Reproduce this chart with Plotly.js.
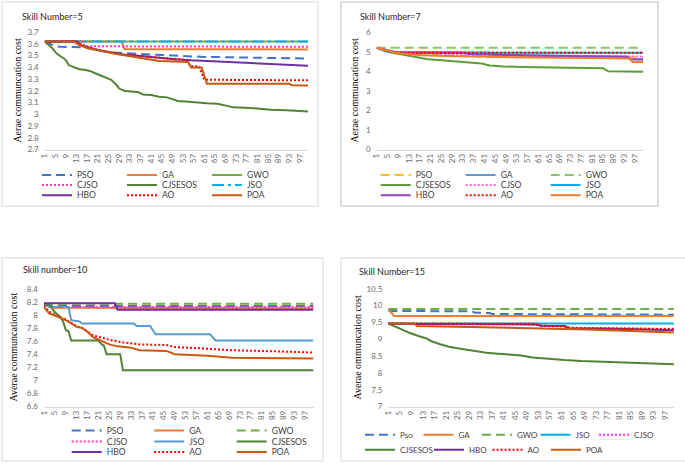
<!DOCTYPE html>
<html>
<head>
<meta charset="utf-8">
<script src="https://cdn.plot.ly/plotly-3.0.1.min.js"></script>
<style>
html,body{margin:0;padding:0;background:#fff;}
#chart{width:685px;height:467px;}
</style>
</head>
<body>
<div id="chart"></div>
<script>
// ---------- DATA (iteration, average communication cost) ----------
const iterTicks = [1,5,9,13,17,21,25,29,33,37,41,45,49,53,57,61,65,69,73,77,81,85,89,93,97];

// Skill Number = 5
const K5_PSO = [[1,3.62],[3,3.6],[5,3.58],[7,3.575],[16,3.57],[20,3.55],[25,3.53],[32,3.52],[40,3.51],[50,3.5],[60,3.49],[75,3.485],[90,3.48],[100,3.475]];
const K5_GA = [[1,3.62],[30,3.62],[31,3.555],[100,3.553]];
const K5_GWO = [[1,3.62],[100,3.62]];
const K5_CJSO = [[1,3.62],[15,3.62],[16,3.58],[100,3.575]];
const K5_CJSESOS = [[1,3.62],[2,3.6],[4,3.56],[5,3.53],[6,3.51],[8,3.48],[9,3.46],[10,3.42],[12,3.4],[14,3.385],[16,3.38],[18,3.37],[20,3.35],[22,3.33],[24,3.31],[26,3.295],[28,3.25],[29,3.22],[31,3.2],[36,3.19],[38,3.17],[41,3.165],[44,3.15],[47,3.145],[49,3.13],[51,3.115],[54,3.11],[58,3.1],[62,3.095],[66,3.09],[69,3.075],[72,3.06],[78,3.055],[82,3.045],[86,3.04],[92,3.035],[97,3.03],[100,3.025]];
const K5_JSO = [[1,3.62],[100,3.62]];
const K5_HBO = [[1,3.62],[13,3.62],[15,3.585],[18,3.565],[22,3.545],[26,3.525],[30,3.51],[36,3.5],[42,3.485],[50,3.47],[56,3.46],[65,3.45],[75,3.44],[85,3.43],[95,3.42],[100,3.415]];
const K5_AO = [[1,3.62],[13,3.62],[15,3.59],[18,3.565],[22,3.545],[26,3.525],[30,3.51],[36,3.5],[42,3.485],[50,3.47],[54,3.465],[56,3.41],[59,3.41],[61,3.295],[100,3.29]];
const K5_POA = [[1,3.62],[12,3.62],[14,3.59],[17,3.565],[20,3.55],[24,3.53],[28,3.515],[32,3.5],[36,3.485],[40,3.47],[44,3.455],[50,3.45],[55,3.445],[56,3.4],[60,3.4],[62,3.26],[93,3.26],[94,3.248],[100,3.245]];

// Skill Number = 7
const K7_PSO = [[1,5.2],[6,4.95],[10,4.88],[14,4.85],[30,4.82],[50,4.78],[70,4.75],[100,4.72]];
const K7_GA = [[1,5.2],[8,4.97],[44,4.95],[45,4.85],[94,4.75],[95,4.63],[100,4.62]];
const K7_GWO = [[1,5.2],[100,5.2]];
const K7_CJSESOS = [[1,5.2],[4,5.05],[8,4.92],[12,4.82],[16,4.7],[20,4.62],[25,4.56],[30,4.5],[35,4.45],[40,4.4],[43,4.3],[48,4.25],[55,4.22],[70,4.19],[85,4.16],[87,4.0],[100,3.98]];
const K7_CJSO = [[1,5.2],[8,4.98],[14,4.93],[30,4.88],[35,4.85],[45,4.8],[70,4.78],[100,4.76]];
const K7_JSO = [[1,5.2],[5,5.0],[10,4.95],[100,4.95]];
const K7_HBO = [[1,5.2],[8,4.97],[34,4.95],[35,4.88],[60,4.8],[94,4.75],[95,4.62],[100,4.6]];
const K7_AO = [[1,5.2],[6,5.0],[12,4.95],[100,4.95]];
const K7_POA = [[1,5.2],[4,5.08],[8,4.95],[12,4.88],[18,4.82],[26,4.78],[40,4.74],[60,4.7],[80,4.68],[95,4.66],[96,4.48],[100,4.47]];

// Skill number = 10
const K10_PSO = [[1,8.16],[5,8.135],[100,8.135]];
const K10_GA = [[1,8.16],[4,8.11],[100,8.1]];
const K10_GWO = [[1,8.17],[100,8.17]];
const K10_CJSO = [[1,8.16],[4,8.12],[100,8.12]];
const K10_JSO = [[1,8.16],[3,8.12],[10,8.12],[11,7.92],[14,7.9],[15,7.87],[34,7.87],[35,7.83],[40,7.83],[42,7.705],[62,7.705],[64,7.61],[100,7.61]];
const K10_CJSESOS = [[1,8.17],[3,8.15],[5,8.04],[7,7.97],[8,7.9],[9,7.77],[10,7.75],[11,7.61],[21,7.61],[22,7.56],[23,7.53],[24,7.4],[29,7.4],[30,7.155],[100,7.155]];
const K10_HBO = [[1,8.18],[27,8.18],[28,8.08],[100,8.08]];
const K10_AO = [[1,8.14],[3,8.05],[5,8.0],[7,7.97],[9,7.93],[11,7.88],[13,7.83],[15,7.8],[17,7.74],[19,7.69],[21,7.665],[25,7.62],[30,7.58],[36,7.55],[46,7.54],[49,7.51],[58,7.49],[70,7.46],[85,7.445],[100,7.425]];
const K10_POA = [[1,8.12],[2,8.06],[3,8.02],[5,7.99],[7,7.96],[9,7.92],[11,7.87],[13,7.82],[15,7.8],[17,7.74],[19,7.66],[21,7.62],[23,7.58],[25,7.55],[28,7.52],[33,7.5],[36,7.46],[46,7.45],[49,7.4],[55,7.39],[61,7.375],[70,7.345],[80,7.34],[95,7.335],[100,7.335]];

// Skill Number = 15
const K15_PSO = [[1,9.84],[30,9.83],[31,9.79],[36,9.78],[37,9.75],[100,9.73]];
const K15_GA = [[1,9.9],[3,9.69],[100,9.69]];
const K15_GWO = [[1,9.9],[100,9.9]];
const K15_JSO = [[1,9.47],[100,9.47]];
const K15_CJSO = [[1,9.47],[10,9.47],[11,9.45],[52,9.44],[54,9.4],[62,9.38],[64,9.33],[100,9.31]];
const K15_CJSESOS = [[1,9.47],[3,9.4],[6,9.28],[8,9.2],[10,9.13],[12,9.08],[14,9.03],[16,8.94],[19,8.85],[22,8.78],[26,8.72],[29,8.68],[32,8.65],[35,8.6],[39,8.57],[43,8.55],[47,8.52],[51,8.46],[56,8.42],[62,8.38],[68,8.35],[74,8.33],[80,8.31],[90,8.28],[100,8.26]];
const K15_HBO = [[1,9.47],[10,9.47],[11,9.45],[52,9.44],[54,9.4],[62,9.39],[64,9.33],[80,9.31],[100,9.27]];
const K15_AO = [[1,9.47],[10,9.47],[11,9.46],[52,9.46],[54,9.4],[62,9.39],[64,9.34],[100,9.3]];
const K15_POA = [[1,9.47],[10,9.47],[11,9.39],[30,9.37],[50,9.33],[70,9.29],[80,9.26],[100,9.2]];

// ---------- STYLE ----------
const W = 685, H = 467;
const px = v => v / W;
const py = v => 1 - v / H;
const DASH = '9px,5px';
const DOT = '2px,2px';
const DASHDOT = '12px,4px,3px,4px';
const FAM = 'Lato, Roboto, sans-serif';

const traces = [];
function add(panel, name, pts, color, dash, legendId, lw) {
  const ax = panel === 1 ? '' : String(panel);
  const t = {
    type: 'scatter', mode: 'lines', name: name,
    x: pts.map(p => p[0]), y: pts.map(p => p[1]),
    xaxis: 'x' + ax, yaxis: 'y' + ax,
    line: {color: color, width: 2, dash: dash || 'solid'},
    legend: legendId, hoverinfo: 'x+y+name'
  };
  if (lw) t.legendwidth = lw;
  traces.push(t);
}

// Panel 1 (legend rows: legend, legend2, legend3)
add(1, 'PSO', K5_PSO, '#4472C4', DASH, 'legend');
add(1, 'GA', K5_GA, '#ED7D31', 'solid', 'legend');
add(1, 'GWO', K5_GWO, '#70AD47', 'solid', 'legend', 60);
add(1, 'CJSO', K5_CJSO, '#FF33CC', DOT, 'legend2');
add(1, 'CJSESOS', K5_CJSESOS, '#548235', 'solid', 'legend2');
add(1, 'JSO', K5_JSO, '#00B0F0', DASHDOT, 'legend2', 60);
add(1, 'HBO', K5_HBO, '#7030A0', 'solid', 'legend3');
add(1, 'AO', K5_AO, '#FF0000', DOT, 'legend3');
add(1, 'POA', K5_POA, '#C55A11', 'solid', 'legend3', 60);

// Panel 2
add(2, 'PSO', K7_PSO, '#FFC000', DASH, 'legend4');
add(2, 'GA', K7_GA, '#5B9BD5', 'solid', 'legend4');
add(2, 'GWO', K7_GWO, '#8CC168', DASH, 'legend4', 60);
add(2, 'CJSESOS', K7_CJSESOS, '#5E9C3A', 'solid', 'legend5');
add(2, 'CJSO', K7_CJSO, '#FF66FF', DOT, 'legend5');
add(2, 'JSO', K7_JSO, '#00B0F0', 'solid', 'legend5', 60);
add(2, 'HBO', K7_HBO, '#8E44C0', 'solid', 'legend6');
add(2, 'AO', K7_AO, '#FF0000', DOT, 'legend6');
add(2, 'POA', K7_POA, '#ED7D31', 'solid', 'legend6', 60);

// Panel 3
add(3, 'PSO', K10_PSO, '#4472C4', DASH, 'legend7');
add(3, 'GA', K10_GA, '#ED7D31', 'solid', 'legend7');
add(3, 'GWO', K10_GWO, '#70AD47', DASH, 'legend7', 60);
add(3, 'CJSO', K10_CJSO, '#FF33CC', DOT, 'legend8');
add(3, 'JSO', K10_JSO, '#5B9BD5', 'solid', 'legend8');
add(3, 'CJSESOS', K10_CJSESOS, '#548235', 'solid', 'legend8', 60);
add(3, 'HBO', K10_HBO, '#7030A0', 'solid', 'legend9');
add(3, 'AO', K10_AO, '#FF0000', DOT, 'legend9');
add(3, 'POA', K10_POA, '#C55A11', 'solid', 'legend9', 60);

// Panel 4
add(4, 'Pso', K15_PSO, '#4472C4', DASH, 'legend10');
add(4, 'GA', K15_GA, '#ED7D31', 'solid', 'legend10');
add(4, 'GWO', K15_GWO, '#70AD47', DASH, 'legend10');
add(4, 'JSO', K15_JSO, '#00B0F0', 'solid', 'legend10');
add(4, 'CJSO', K15_CJSO, '#FF33FF', DOT, 'legend10', 40);
add(4, 'CJSESOS', K15_CJSESOS, '#548235', 'solid', 'legend11', 24);
add(4, 'HBO', K15_HBO, '#7030A0', 'solid', 'legend11');
add(4, 'AO', K15_AO, '#FF0000', DOT, 'legend11');
add(4, 'POA', K15_POA, '#C55A11', 'solid', 'legend11', 40);

// ---------- LAYOUT ----------
const tickFont = {family: FAM, size: 8, color: '#6b6b6b'};
function xAxis(d, anchor) {
  return {domain: d, anchor: anchor, range: [1, 100], tickmode: 'array', tickvals: iterTicks,
    ticktext: iterTicks.map(String), tickangle: -90, showgrid: false, zeroline: false,
    showline: true, linecolor: '#D9D9D9', linewidth: 1, ticks: '', tickfont: tickFont, fixedrange: true};
}
function yAxis(d, anchor, r, dt) {
  return {domain: d, anchor: anchor, range: r, tick0: r[0], dtick: dt, showgrid: false, zeroline: false,
    showline: false, ticks: '', tickfont: tickFont, ticklabelstandoff: 5, fixedrange: true};
}
function leg(xLine, yRow, ew, fs) {
  return {x: px(xLine - 5), y: py(yRow), xanchor: 'left', yanchor: 'middle', orientation: 'h',
    entrywidth: ew, entrywidthmode: 'pixels', bgcolor: 'rgba(0,0,0,0)', borderwidth: 0,
    font: {family: FAM, size: fs, color: '#404040'}, traceorder: 'normal',
    itemclick: false, itemdoubleclick: false, valign: 'middle'};
}
const topY = [py(150.3), py(32.3)];
const botY = [py(408.3), py(290)];

const layout = {
  width: W, height: H, margin: {l: 0, r: 0, t: 0, b: 0},
  paper_bgcolor: '#ffffff', plot_bgcolor: 'rgba(0,0,0,0)', showlegend: true,
  font: {family: FAM},
  xaxis: xAxis([px(44.7), px(308)], 'y'),
  yaxis: yAxis(topY, 'x', [2.7, 3.7], 0.1),
  xaxis2: xAxis([px(376.7), px(643.3)], 'y2'),
  yaxis2: yAxis(topY, 'x2', [0, 6], 1),
  xaxis3: xAxis([px(44), px(313.5)], 'y3'),
  yaxis3: yAxis(botY, 'x3', [6.6, 8.4], 0.2),
  xaxis4: xAxis([px(388.3), px(673.9)], 'y4'),
  yaxis4: yAxis(botY, 'x4', [7, 10.5], 0.5),
  legend: leg(42, 175.7, 40, 8.5), legend2: leg(42, 185.7, 40, 8.5), legend3: leg(42, 196, 40, 8.5),
  legend4: leg(380.7, 175.7, 40, 8.5), legend5: leg(380.7, 185.7, 40, 8.5), legend6: leg(380.7, 196, 40, 8.5),
  legend7: leg(71.7, 432.3, 37.5, 8.5), legend8: leg(71.7, 443.3, 37.5, 8.5), legend9: leg(71.7, 454, 37.5, 8.5),
  legend10: leg(365, 436.7, 13.5, 8), legend11: leg(365, 451.7, 13.5, 8),
  shapes: [
    {type: 'rect', xref: 'paper', yref: 'paper', x0: px(2), x1: px(318), y0: py(207), y1: py(2), line: {color: '#D9D9D9', width: 1}},
    {type: 'rect', xref: 'paper', yref: 'paper', x0: px(341), x1: px(658), y0: py(207), y1: py(2), line: {color: '#BFBFBF', width: 1}},
    {type: 'rect', xref: 'paper', yref: 'paper', x0: px(2), x1: px(323), y0: py(463), y1: py(259), line: {color: '#D9D9D9', width: 1}},
    {type: 'rect', xref: 'paper', yref: 'paper', x0: px(341), x1: px(700), y0: py(463), y1: py(259), line: {color: '#D9D9D9', width: 1}}
  ],
  annotations: [
    {text: 'Skill Number=5', x: px(20), y: py(17)},
    {text: 'Skill Number=7', x: px(358), y: py(17)},
    {text: 'Skill number=10', x: px(21), y: py(271)},
    {text: 'Skill Number=15', x: px(357), y: py(272.5)}
  ].map(a => Object.assign({xref: 'paper', yref: 'paper', xanchor: 'left', yanchor: 'middle', showarrow: false,
      font: {family: FAM, size: 9, color: '#262626'}}, a)).concat([
    {text: 'Aerae communcation cost', x: px(18), y: py(91)},
    {text: 'Aerae communcation cost', x: px(355), y: py(91)},
    {text: 'Averae communcation cost', x: px(14), y: py(349)},
    {text: 'Averae ommuncation cost', x: px(358), y: py(349)}
  ].map(a => Object.assign({xref: 'paper', yref: 'paper', xanchor: 'center', yanchor: 'middle', showarrow: false, textangle: -90,
      font: {family: 'Liberation Serif, serif', size: 10, color: '#000000'}}, a)))
};

Plotly.newPlot('chart', traces, layout, {displayModeBar: false, staticPlot: true});
</script>
</body>
</html>
